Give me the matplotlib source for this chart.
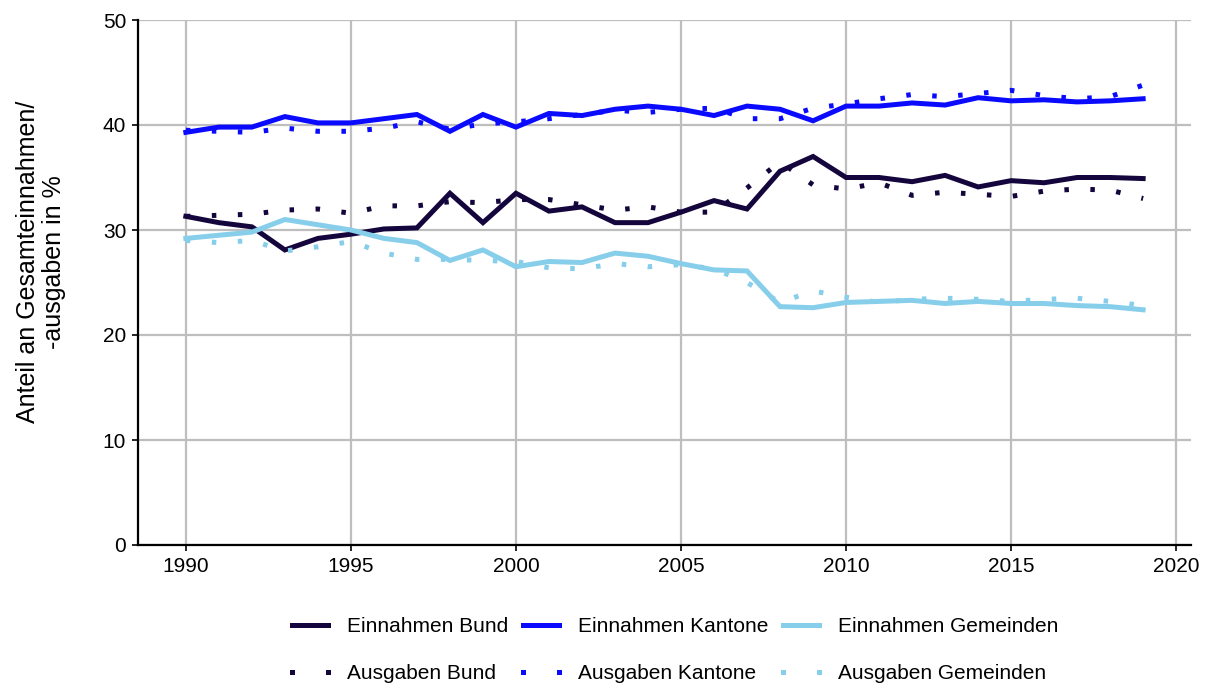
import matplotlib
matplotlib.use('Agg')
import matplotlib.pyplot as plt
from matplotlib.lines import Line2D
from matplotlib.legend_handler import HandlerLine2D

plt.rcParams['font.family'] = ['Liberation Sans', 'DejaVu Sans']

# ===== DATA =====
years = list(range(1990, 2020))

einnahmen_bund = [31.3, 30.7, 30.3, 28.1, 29.2, 29.6, 30.1, 30.2, 33.5, 30.7,
                  33.5, 31.8, 32.2, 30.7, 30.7, 31.7, 32.8, 32.0, 35.6, 37.0,
                  35.0, 35.0, 34.6, 35.2, 34.1, 34.7, 34.5, 35.0, 35.0, 34.9]
einnahmen_kantone = [39.3, 39.8, 39.8, 40.8, 40.2, 40.2, 40.6, 41.0, 39.4, 41.0,
                     39.8, 41.1, 40.9, 41.5, 41.8, 41.5, 40.9, 41.8, 41.5, 40.4,
                     41.8, 41.8, 42.1, 41.9, 42.6, 42.3, 42.4, 42.2, 42.3, 42.5]
einnahmen_gemeinden = [29.2, 29.5, 29.8, 31.0, 30.5, 30.0, 29.2, 28.8, 27.1, 28.1,
                       26.5, 27.0, 26.9, 27.8, 27.5, 26.8, 26.2, 26.1, 22.7, 22.6,
                       23.1, 23.2, 23.3, 23.0, 23.2, 23.0, 23.0, 22.8, 22.7, 22.4]

ausgaben_bund = [31.3, 31.4, 31.5, 31.9, 32.0, 31.6, 32.3, 32.3, 32.7, 32.6,
                 32.9, 32.9, 32.4, 31.9, 32.2, 31.7, 31.7, 34.0, 36.5, 34.3,
                 33.9, 34.5, 33.3, 33.6, 33.4, 33.2, 33.7, 33.9, 33.8, 33.0]
ausgaben_kantone = [39.5, 39.4, 39.3, 39.7, 39.4, 39.4, 39.7, 40.3, 39.6, 40.1,
                    40.3, 40.6, 41.0, 41.4, 41.2, 41.5, 41.6, 40.6, 40.6, 41.6,
                    42.0, 42.5, 42.9, 42.7, 43.0, 43.3, 42.8, 42.5, 42.7, 43.8]
ausgaben_gemeinden = [29.0, 28.8, 29.0, 28.0, 28.4, 28.9, 27.8, 27.2, 27.2, 27.1,
                      27.0, 26.4, 26.3, 26.8, 26.5, 26.7, 26.3, 25.0, 23.1, 24.2,
                      23.6, 23.1, 23.4, 23.5, 23.4, 23.2, 23.4, 23.5, 23.2, 22.8]

x_ticks = [1990, 1995, 2000, 2005, 2010, 2015, 2020]
y_ticks = [0, 10, 20, 30, 40, 50]

COL_BUND = '#14063c'
COL_KANTONE = '#0a0aff'
COL_GEMEINDEN = '#87ceeb'
DOTTED = (0, (0.9, 4.3))
# ===============================================

fig = plt.figure(figsize=(12.12, 6.84), dpi=100)
ax = fig.add_axes([138 / 1212, (684 - 545) / 684, (1191 - 138) / 1212, (545 - 20) / 684])

series = [
    (einnahmen_bund, COL_BUND, '-', 'Einnahmen Bund'),
    (einnahmen_kantone, COL_KANTONE, '-', 'Einnahmen Kantone'),
    (einnahmen_gemeinden, COL_GEMEINDEN, '-', 'Einnahmen Gemeinden'),
    (ausgaben_bund, COL_BUND, DOTTED, 'Ausgaben Bund'),
    (ausgaben_kantone, COL_KANTONE, DOTTED, 'Ausgaben Kantone'),
    (ausgaben_gemeinden, COL_GEMEINDEN, DOTTED, 'Ausgaben Gemeinden'),
]

handles = {}
for vals, col, ls, lab in series:
    line, = ax.plot(years, vals, color=col, linestyle=ls, linewidth=3.6, label=lab,
                    solid_joinstyle='miter', dash_capstyle='butt', zorder=3)
    handles[lab] = line

ax.set_xlim(1988.55, 2020.45)
ax.set_ylim(0, 50)
ax.set_xticks(x_ticks)
ax.set_yticks(y_ticks)

ax.grid(True, color='#bebebe', linewidth=1.6, zorder=0)
ax.set_axisbelow(True)
for side in ['top', 'right']:
    ax.spines[side].set_visible(False)
for side in ['left', 'bottom']:
    ax.spines[side].set_linewidth(1.6)
    ax.spines[side].set_color('black')
ax.tick_params(axis='both', length=4.5, width=1.2, labelsize=15, colors='black', pad=4)

fig.text(41 / 1212, 1 - 262 / 684, 'Anteil an Gesamteinnahmen/\n-ausgaben in %',
         rotation=90, ha='center', va='center', multialignment='center',
         fontsize=18, linespacing=1.1)

# legend: matplotlib fills columns first, so interleave rows
order = ['Einnahmen Bund', 'Ausgaben Bund', 'Einnahmen Kantone', 'Ausgaben Kantone',
         'Einnahmen Gemeinden', 'Ausgaben Gemeinden']
leg_handles = []
for lab in order:
    h = handles[lab]
    if h.get_linestyle() == '-':
        leg_handles.append(Line2D([0], [0], color=h.get_color(), linewidth=3.6))
    else:
        # dotted keys: two small squares, as in the reference
        leg_handles.append(Line2D([0], [0], color=h.get_color(), linestyle='none',
                                  marker='s', markersize=3.6, markeredgewidth=0))
leg = fig.legend(leg_handles, order, ncol=3, loc='center', bbox_to_anchor=(675 / 1212, 1 - 650 / 684),
                 frameon=False, fontsize=15, handlelength=1.75, handletextpad=0.9,
                 columnspacing=0.7, labelspacing=1.35, borderaxespad=0, numpoints=2,
                 handler_map={Line2D: HandlerLine2D(marker_pad=0)})

plt.savefig('out.png', dpi=100)
plt.close('all')
